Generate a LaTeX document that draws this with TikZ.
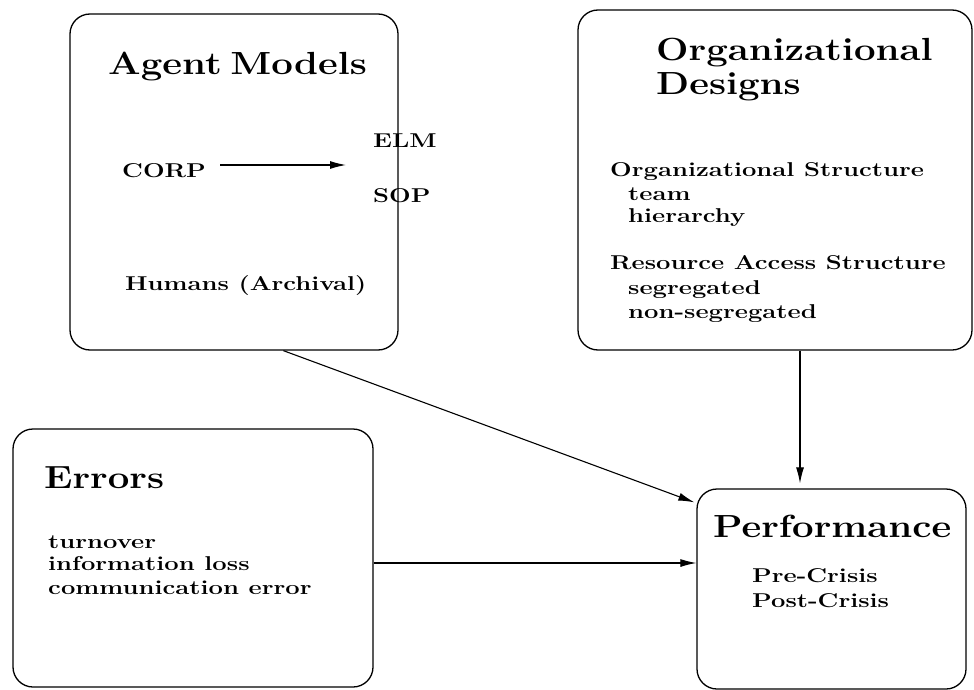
\documentclass[tikz,border=0pt]{standalone}
\usepackage{fontspec}
\usetikzlibrary{arrows.meta,calc}
\newfontfamily\headf{Latin Modern Roman}[FakeStretch=1.2,WordSpace=0.6]
\newfontfamily\txtf{Latin Modern Roman}[FakeStretch=1.28]
\begin{document}
\begin{tikzpicture}[x=1pt,y=-1pt,
  box/.style={draw,line width=1.3pt,rounded corners=20pt,minimum width=#1,inner sep=0pt},
  head/.style={anchor=base west,font=\fontsize{32}{36}\headf\bfseries,inner sep=0pt},
  txt/.style={anchor=base west,font=\fontsize{20}{22}\txtf\bfseries,inner sep=0pt,align=left},
  arr/.style={line width=1.1pt,-{Latex[length=16pt,width=8pt]}}]
\useasboundingbox (0,0) rectangle (974,690);
% boxes
\node[box=328pt,minimum height=336pt] (am) at (234,182) {};
\node[box=394pt,minimum height=340pt] (od) at (775,180) {};
\node[box=360pt,minimum height=258pt] (er) at (193,558) {};
\node[box=269pt,minimum height=200pt] (pf) at (831.5,589) {};
% Agent Models
\node[head] (amh) at (108,75) {Agent Models};
\node[txt] (corp) at (122,177) {CORP};
\node[txt] (elm) at (373,147) {ELM};
\node[txt] (sop) at (373,202) {SOP};
\node[txt] (hum) at (125,290) {Humans (Archival)};
\coordinate (c1) at (220,165);
\coordinate (c2) at (346,165);
\draw[arr] (c1) -- (c2);
% Organizational Designs
\node[head] (odh1) at (656,61) {Organizational};
\node[head] (odh2) at (656,95) {Designs};
\node[txt] (os) at (610,176) {Organizational Structure};
\node[txt] (team) at (628,200) {team};
\node[txt] (hier) at (628,222) {hierarchy};
\node[txt] (ras) at (610,269) {Resource Access Structure};
\node[txt] (seg) at (628,294) {segregated};
\node[txt] (nseg) at (628,318) {non-segregated};
% Errors
\node[head] (erh) at (44,488) {Errors};
\node[txt] (t1) at (48,548) {turnover};
\node[txt] (t2) at (48,570) {information loss};
\node[txt] (t3) at (48,594) {communication error};
% Performance
\node[head] (pfh) at (713,537) {Performance};
\node[txt] (p1) at (752,582) {Pre-Crisis};
\node[txt] (p2) at (752,607) {Post-Crisis};
% connectors
\coordinate (a1) at ($(am.south west)!0.65!(am.south east)$);
\coordinate (a2) at ($(pf.north west)+(-2,14)$);
\draw[arr] (a1) -- (a2);
\coordinate (b1) at (od.south -| 800,0);
\coordinate (b2) at ($(pf.north -| 800,0)+(0,-5)$);
\draw[arr] (b1) -- (b2);
\coordinate (e1) at (er.east |- 0,563);
\coordinate (e2) at (pf.west |- 0,563);
\draw[arr] (e1) -- (e2);
\end{tikzpicture}
\end{document}
